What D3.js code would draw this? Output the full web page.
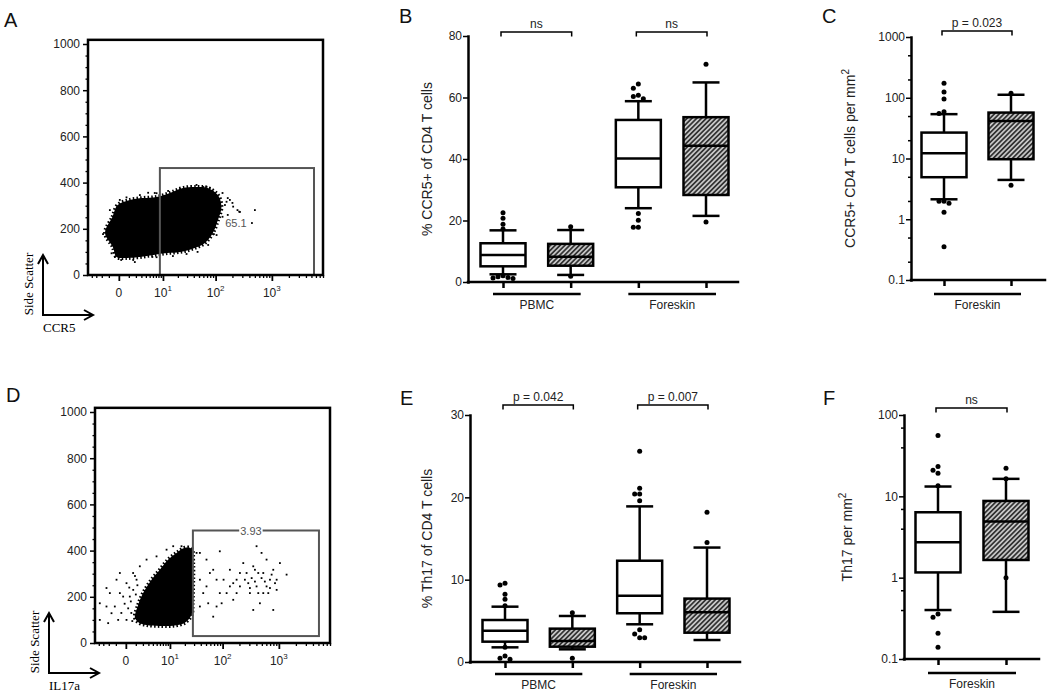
<!DOCTYPE html>
<html>
<head>
<meta charset="utf-8">
<script src="https://cdn.jsdelivr.net/npm/d3@7"></script>
<style>
  body { margin: 0; background: #fff; }
</style>
</head>
<body>
<svg id="fig" width="1050" height="697" font-family="Liberation Sans, Arial, Helvetica, sans-serif"></svg>
<script>
// ---------- data ----------

// A: CCR5 vs side scatter (fluorescence units, SSC)
const ccr5Core = [[-1.5,182],[-0.6,251],[-0.1,303],[1.13,325],[3.3,333],[7.3,338],[13.9,355],[25,377],[48,381],
  [72,377],[110,346],[127,294],[110,238],[89,182],[64,139],[37,113],[22,100],[12.2,95],[6.2,87],[2.7,78],
  [0.75,74],[-0.2,78],[-0.55,121]];
const ccr5Events = [[-1.8,177],[-1.26,195],[6.6,355],[12.8,364],[22,372],[60,381],[79,377],[133,355],[165,333],
  [200,312],[246,281],[501,281],[272,273],[444,225],[147,303],[165,260],[-0.35,78],[0.2,65],[5.8,78],[16,82],
  [47,100],[93,177],[-0.2,95],[1.83,56],[0.08,325],[0.73,336],[2.7,346],[1.35,307],[4.58,356],[-0.88,281],
  [-1.09,209],[-0.69,94],[1.58,65],[7.26,77],[29.3,91],[73.4,130],[104,173],[133,252],[157,317],[180,325],
  [206,296],[264,274],[45,390],[68.7,382],[18.9,361],[7.26,354]];
const ccr5Gate = [8.6, 5550, 0, 463];          // x0, x1, y0, y1
const ccr5GateLabel = ['65.1', 231, 226];

// D: IL17a vs side scatter
const il17Core = [[0.9,110],[1.3,165],[2.04,216],[3.69,274],[5.96,317],[9.2,361],[13.7,390],[20,412],[26.9,408],
  [28.8,346],[28.8,260],[28.1,173],[26.9,122],[20,88],[11.7,75],[5.96,74],[2.64,78],[1.4,88]];
const il17Events = [[-3.76,172],[-2.39,238],[-1.83,216],[-1.58,129],[-0.92,274],[-0.55,303],[-0.23,201],[-1.13,158],
  [-2.1,86],[0.35,201],[0.69,303],[1.53,332],[2.64,361],[0.055,100],[-0.73,100],[1.09,274],[-0.55,216],[0.055,259],
  [-3.76,100],[-2.39,158],[8.46,404],[11.7,419],[17.2,419],[4.96,375],
  [0.2,150],[0.5,130],[0.45,180],[0.7,230],[0.3,240],[1.0,210],[-0.1,170],[0.6,95],[1.2,250],[0.9,290],[-0.4,130],
  [33.4,390],[38.5,274],[44.4,216],[54.8,172],[38.5,390],[51,361],[58.8,303],[77.8,274],[89,397],[135,317],
  [178,274],[268,303],[352,332],[403,419],[494,390],[530,303],[606,245],[796,317],[914,274],[1044,346],[1370,296],
  [650,216],[462,172],[307,216],[204,245],[155,187],[118,216],[77.8,158],[67.6,114],[796,143],[352,143],[606,361],
  [234,346],[403,245],[696,274],[914,230],[432,303],[287,259],[204,303],[135,245],[89,216],[51,245],[38.5,158],
  [330,281],[377,266],[494,281],[565,266],[696,238],[745,296],[307,238],[250,274],[432,216],[530,216],[855,259],
  [377,317],[155,259],[178,216],[67.6,317],[104,274],[96,172]];
const il17Gate = [28.5, 5108, 30, 487];
const il17GateLabel = ['3.93', 320, 487];

const flowYTicks = [0, 200, 400, 600, 800, 1000];
const flowXTicks = [0, 10, 100, 1000];
const flowXMinor = [-4,-3,-2,-1,1,2,3,4,5,6,7,8,9,20,30,40,50,60,70,80,90,200,300,400,500,600,700,800,900,
  2000,3000,4000,5000,6000,7000,8000];

// box plots: [whisker low, Q1, median, Q3, whisker high]
const tissueGroups = ['PBMC', 'Foreskin'];
const pairKeys = ['PBMC-a', 'PBMC-b', 'Foreskin-a', 'Foreskin-b'];
const skinKeys = ['Foreskin-a', 'Foreskin-b'];
const hatchedKeys = ['PBMC-b', 'Foreskin-b'];

const ccr5PctStats = [[2.5,5.1,8.8,12.6,16.8],[2.3,5.3,8.2,12.4,16.9],[24.0,30.8,40.2,52.7,58.8],[21.5,28.3,44.3,53.6,64.9]];
const ccr5PctOut = [[22.5,20.7,18.8,17.2,2.0,1.7,1.5,1.3,1.1],[18.0,1.9],[64.4,63.0,60.7,60.3,59.6,22.3,20.1,17.8,17.8],[70.8,19.5]];
const ccr5PctP = ['ns', 'ns'];
const ccr5PctTicks = [0, 20, 40, 60, 80];

const ccr5DensStats = [[2.13,4.92,12.2,26.7,53.7],[4.44,9.73,41.6,57,112]];
const ccr5DensOut = [[174,124,95,59,55,1.98,1.98,1.84,1.30,0.354],[119,3.63]];
const ccr5DensP = ['p = 0.023'];
const ccr5DensTicks = [0.1, 1, 10, 100, 1000];
const ccr5DensMinor = [0.2,0.5,2,5,20,50,200,500];

const th17PctStats = [[1.78,2.47,3.8,5.1,6.72],[1.54,1.86,2.55,4.05,5.59],[4.58,5.92,8.06,12.3,18.9],[2.67,3.56,6.04,7.7,13.9]];
const th17PctOut = [[9.56,9.36,8.23,7.62,6.84,1.8,0.73,0.45,0.33],[5.99,0.45],[25.6,21.1,20.4,20.4,19.6,3.92,3.4,2.95,2.95],[18.2,14.5]];
const th17PctP = ['p = 0.042', 'p = 0.007'];
const th17PctTicks = [0, 10, 20, 30];

const th17DensStats = [[0.40,1.16,2.72,6.37,13.2],[0.38,1.65,4.89,8.78,16.4]];
const th17DensOut = [[55.8,23.2,21.0,19.2,13.5,0.357,0.326,0.207,0.139],[22.2,16.5,1.0]];
const th17DensP = ['ns'];
const th17DensTicks = [0.1, 1, 10, 100];
const th17DensMinor = [0.4,0.7,4,7,40,70];

// ---------- drawing ----------
const svg = d3.select('#fig');
const font = 'Liberation Sans, Arial, Helvetica, sans-serif';
const serif = 'Liberation Serif, Times New Roman, serif';

const pat = svg.append('defs').append('pattern').attr('id', 'hatch')
  .attr('patternUnits', 'userSpaceOnUse').attr('width', 3.4).attr('height', 3.4)
  .attr('patternTransform', 'rotate(45)');
pat.append('rect').attr('width', 3.4).attr('height', 3.4).attr('fill', '#c6c6c6');
pat.append('line').attr('x1', 1.7).attr('x2', 1.7).attr('y1', 0).attr('y2', 3.4)
  .attr('stroke', '#333').attr('stroke-width', 1.7);

function styleAxis(a, size) {
  a.attr('font-family', font).attr('font-size', size || 12);
  a.selectAll('.tick line').attr('stroke-width', 1.5);
  a.selectAll('.tick text').attr('fill', '#222');
}

function flowPanel(o) {
  const g = svg.append('g');
  const w = 235;
  const x = d3.scaleSymlog().constant(2).domain([-5, 8000]).range([o.left, o.left + w]);
  const y = d3.scaleLinear().domain([0, 1000]).range([o.zero, o.zero - 231]);
  const top = y(1018), bottom = y(0);
  const line = d3.line().x(d => x(d[0])).y(d => y(d[1])).curve(d3.curveCatmullRomClosed.alpha(0.5));

  g.append('path').datum(o.core).attr('d', line).attr('fill', '#000')
    .attr('stroke', '#000').attr('stroke-width', 4).attr('stroke-dasharray', '1.5 2.2');
  g.selectAll('rect.ev').data(o.events).join('rect').attr('class', 'ev')
    .attr('x', d => x(d[0]) - 0.9).attr('y', d => y(d[1]) - 0.9)
    .attr('width', 1.8).attr('height', 1.8).attr('fill', '#000');

  const gt = o.gate;
  g.append('rect').attr('x', x(gt[0])).attr('y', y(gt[3]))
    .attr('width', x(gt[1]) - x(gt[0])).attr('height', y(gt[2]) - y(gt[3]))
    .attr('fill', 'none').attr('stroke', '#555').attr('stroke-width', 2);
  const lab = g.append('text').attr('x', x(o.label[1])).attr('y', y(o.label[2]))
    .attr('text-anchor', 'middle').attr('dominant-baseline', 'central')
    .attr('font-size', 11).attr('fill', '#555').text(o.label[0]);
  if (o.labelOnEdge) {
    const bb = lab.node().getBBox();
    g.insert('rect', 'text').attr('x', bb.x - 1).attr('y', bb.y + 2).attr('width', bb.width + 2)
      .attr('height', bb.height - 4).attr('fill', '#fff');
  }

  g.append('rect').attr('x', o.left).attr('y', top).attr('width', w).attr('height', bottom - top)
    .attr('fill', 'none').attr('stroke', '#000').attr('stroke-width', 2.5);

  const ya = g.append('g').attr('transform', `translate(${o.left},0)`)
    .call(d3.axisLeft(y).tickValues(flowYTicks).tickFormat(d3.format('d')).tickSize(5).tickSizeOuter(0));
  ya.select('.domain').remove();
  styleAxis(ya);
  const ym = g.append('g').attr('transform', `translate(${o.left},0)`)
    .call(d3.axisLeft(y).tickValues(d3.range(50, 1000, 50).filter(v => v % 200)).tickSize(2.5).tickFormat(''));
  ym.select('.domain').remove();
  ym.selectAll('line').attr('stroke-width', 1.3);

  const xa = g.append('g').attr('transform', `translate(0,${bottom})`)
    .call(d3.axisBottom(x).tickValues(flowXTicks).tickSize(6).tickFormat(''));
  xa.select('.domain').remove();
  xa.selectAll('line').attr('stroke-width', 1.8);
  const xm = g.append('g').attr('transform', `translate(0,${bottom})`)
    .call(d3.axisBottom(x).tickValues(flowXMinor).tickSize(3).tickFormat(''));
  xm.select('.domain').remove();
  xm.selectAll('line').attr('stroke-width', 1.3);

  flowXTicks.forEach(v => {
    const t = g.append('text').attr('x', x(v)).attr('y', bottom + 22).attr('text-anchor', 'middle')
      .attr('font-size', 12).attr('fill', '#222');
    if (v === 0) t.text('0');
    else {
      t.append('tspan').text('10');
      t.append('tspan').attr('dy', -6).attr('font-size', 8).text(Math.round(Math.log10(v)));
    }
  });

  // channel arrows
  const ax = o.arrow[0], ay = o.arrow[1];
  const arr = g.append('g').attr('fill', 'none').attr('stroke', '#000').attr('stroke-width', 2);
  arr.append('path').attr('d', `M${ax},${ay - 60}V${ay}H${ax + 50}`);
  arr.append('path').attr('d', `M${ax - 5},${ay - 51}L${ax},${ay - 60}L${ax + 5},${ay - 51}`);
  arr.append('path').attr('d', `M${ax + 41},${ay - 5}L${ax + 50},${ay}L${ax + 41},${ay + 5}`);
  g.append('text').attr('transform', `translate(${ax - 10},${ay - 31}) rotate(-90)`)
    .attr('text-anchor', 'middle').attr('font-family', serif).attr('font-size', 13).text('Side Scatter');
  g.append('text').attr('x', ax).attr('y', ay + 17).attr('font-family', serif).attr('font-size', 13)
    .text(o.channel);
}

function spread(vals, cx, y) {
  const placed = [];
  return vals.slice().sort(d3.descending).map(v => {
    const py = y(v);
    for (const off of [0, -5, 5, -10, 10]) {
      if (placed.every(p => Math.hypot(p[0] - (cx + off), p[1] - py) >= 4.6)) {
        placed.push([cx + off, py]);
        return [cx + off, py];
      }
    }
    placed.push([cx, py]);
    return [cx, py];
  });
}

function boxPanel(o) {
  const g = svg.append('g');
  const y = (o.log ? d3.scaleLog() : d3.scaleLinear()).domain(o.yDomain).range([o.yBottom, o.yTop]);
  const x = d3.scalePoint().domain(o.keys).range(o.xRange);
  const hw = 22.5, cap = 13.5;
  const base = y(o.yDomain[0]);

  // axes
  const ya = g.append('g').attr('transform', `translate(${o.axisX},0)`)
    .call(d3.axisLeft(y).tickValues(o.ticks).tickFormat(d => String(d)).tickSize(5).tickSizeOuter(0));
  ya.select('.domain').attr('stroke-width', 2.5).attr('stroke-linecap', 'square');
  styleAxis(ya);
  ya.selectAll('.tick text').attr('x', -6);
  if (o.minor) {
    const ym = g.append('g').attr('transform', `translate(${o.axisX},0)`)
      .call(d3.axisLeft(y).tickValues(o.minor).tickSize(3).tickFormat(''));
    ym.select('.domain').remove();
    ym.selectAll('line').attr('stroke-width', 1.5);
  }
  g.append('line').attr('x1', o.axisX).attr('x2', o.axisEnd).attr('y1', base).attr('y2', base)
    .attr('stroke', '#000').attr('stroke-width', 2.5).attr('stroke-linecap', 'square');
  const xa = g.append('g').attr('transform', `translate(0,${base})`)
    .call(d3.axisBottom(x).tickSize(6).tickFormat(''));
  xa.select('.domain').remove();
  xa.selectAll('line').attr('stroke-width', 2.5);

  // title
  g.append('text')
    .attr('transform', `translate(${o.titleX},${(o.yBottom + o.yTop) / 2}) rotate(-90)`)
    .attr('text-anchor', 'middle').attr('font-size', 14).attr('fill', '#222')
    .call(t => {
      t.append('tspan').text(o.title);
      if (o.sup) t.append('tspan').attr('dy', -6).attr('font-size', 10).text(o.sup);
    });

  // boxes
  const boxes = g.append('g').attr('stroke', '#000').attr('stroke-width', 2.5);
  o.keys.forEach((k, i) => {
    const s = o.stats[i], cx = x(k);
    boxes.append('line').attr('x1', cx).attr('x2', cx).attr('y1', y(s[4])).attr('y2', y(s[3]));
    boxes.append('line').attr('x1', cx).attr('x2', cx).attr('y1', y(s[1])).attr('y2', y(s[0]));
    boxes.append('line').attr('x1', cx - cap).attr('x2', cx + cap).attr('y1', y(s[4])).attr('y2', y(s[4]));
    boxes.append('line').attr('x1', cx - cap).attr('x2', cx + cap).attr('y1', y(s[0])).attr('y2', y(s[0]));
    boxes.append('rect').attr('x', cx - hw).attr('y', y(s[3])).attr('width', 2 * hw)
      .attr('height', y(s[1]) - y(s[3]))
      .attr('fill', hatchedKeys.includes(k) ? 'url(#hatch)' : '#fff');
    boxes.append('line').attr('x1', cx - hw).attr('x2', cx + hw).attr('y1', y(s[2])).attr('y2', y(s[2]));
    g.selectAll(null).data(spread(o.out[i], cx, y)).join('circle')
      .attr('cx', d => d[0]).attr('cy', d => d[1]).attr('r', 2.5).attr('fill', '#000');
  });

  // group bars
  o.groups.forEach((name, j) => {
    const x0 = x(o.keys[2 * j]) - 10, x1 = x(o.keys[2 * j + 1]) + 10;
    g.append('line').attr('x1', x0).attr('x2', x1).attr('y1', o.barY).attr('y2', o.barY)
      .attr('stroke', '#000').attr('stroke-width', 2.5);
    g.append('text').attr('x', (x0 + x1) / 2).attr('y', o.barY + 15).attr('text-anchor', 'middle')
      .attr('font-size', 12).attr('fill', '#222').text(name);
  });

  // significance brackets
  o.pvals.forEach((p, j) => {
    const x0 = x(o.keys[2 * j]) - 2, x1 = x(o.keys[2 * j + 1]) + 1, by = o.bracketY;
    g.append('path').attr('d', `M${x0},${by + 4.5}V${by}H${x1}V${by + 4.5}`)
      .attr('fill', 'none').attr('stroke', '#000').attr('stroke-width', 1.5);
    g.append('text').attr('x', (x0 + x1) / 2).attr('y', by - 4).attr('text-anchor', 'middle')
      .attr('font-size', 12).attr('fill', '#222').text(p);
  });
}

flowPanel({ left: 88, zero: 275, core: ccr5Core, events: ccr5Events, gate: ccr5Gate, label: ccr5GateLabel,
  labelOnEdge: false, arrow: [43, 315], channel: 'CCR5' });
flowPanel({ left: 95, zero: 643, core: il17Core, events: il17Events, gate: il17Gate, label: il17GateLabel,
  labelOnEdge: true, arrow: [49, 673], channel: 'IL17a' });

boxPanel({ keys: pairKeys, stats: ccr5PctStats, out: ccr5PctOut, pvals: ccr5PctP, groups: tissueGroups,
  yDomain: [0, 80], ticks: ccr5PctTicks, yBottom: 282, yTop: 36, xRange: [503, 706], axisX: 468, axisEnd: 738,
  bracketY: 32, barY: 294, titleX: 432, title: '% CCR5+ of CD4 T cells' });
boxPanel({ keys: skinKeys, stats: ccr5DensStats, out: ccr5DensOut, pvals: ccr5DensP, groups: ['Foreskin'],
  log: true, yDomain: [0.1, 1000], ticks: ccr5DensTicks, minor: ccr5DensMinor, yBottom: 280, yTop: 37,
  xRange: [944, 1011], axisX: 911, axisEnd: 1045, bracketY: 31, barY: 294, titleX: 855,
  title: 'CCR5+ CD4 T cells per mm', sup: '2' });
boxPanel({ keys: pairKeys, stats: th17PctStats, out: th17PctOut, pvals: th17PctP, groups: tissueGroups,
  yDomain: [0, 30], ticks: th17PctTicks, yBottom: 662, yTop: 415, xRange: [505, 707], axisX: 470, axisEnd: 740,
  bracketY: 405, barY: 674, titleX: 432, title: '% Th17 of CD4 T cells' });
boxPanel({ keys: skinKeys, stats: th17DensStats, out: th17DensOut, pvals: th17DensP, groups: ['Foreskin'],
  log: true, yDomain: [0.1, 100], ticks: th17DensTicks, minor: th17DensMinor, yBottom: 659, yTop: 415,
  xRange: [938, 1006], axisX: 904, axisEnd: 1039, bracketY: 408, barY: 673, titleX: 852,
  title: 'Th17 per mm', sup: '2' });

// panel letters
[['A', 4, 27], ['B', 399, 23], ['C', 822, 23], ['D', 6, 402], ['E', 400, 405], ['F', 823, 405]].forEach(l => {
  svg.append('text').attr('x', l[1]).attr('y', l[2]).attr('font-size', 20).attr('fill', '#111').text(l[0]);
});
</script>
</body>
</html>
